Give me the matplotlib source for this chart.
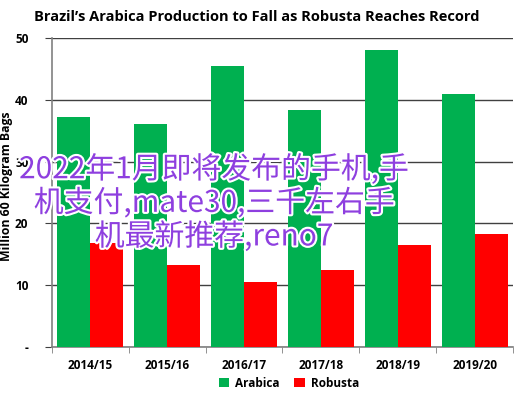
import matplotlib as mpl
import matplotlib.pyplot as plt
import matplotlib.patheffects as pe
import numpy as np

mpl.rcParams["font.family"] = ["Open Sans", "DejaVu Sans"]

# 数据
seasons = ["2014/15", "2015/16", "2016/17", "2017/18", "2018/19", "2019/20"]
arabica = [37.2, 36.1, 45.5, 38.4, 48.1, 40.9]
robusta = [16.8, 13.3, 10.5, 12.5, 16.5, 18.3]
yticks = [0, 10, 20, 30, 40, 50]
ytick_labels = ["-", "10", "20", "30", "40", "50"]

fig = plt.figure(figsize=(5.3, 3.97), dpi=100)
ax = fig.add_axes([0.098, 0.126, 0.870, 0.778])

x = np.arange(len(seasons))
w = 0.43
ax.bar(x - w / 2, arabica, w, color="#00b050", label="Arabica", zorder=3)
ax.bar(x + w / 2, robusta, w, color="#ff0000", label="Robusta", zorder=3)

ax.set_xlim(-0.5, len(seasons) - 0.5)
ax.set_ylim(0, 50)
ax.set_yticks(yticks)
ax.set_yticklabels(ytick_labels, fontsize=8.5, fontweight="bold")
ax.set_xticks(x)
ax.set_xticklabels(seasons, fontsize=8.5, fontweight="bold")
ax.set_xticks(np.arange(len(seasons) + 1) - 0.5, minor=True)
ax.tick_params(axis="x", which="major", length=0, pad=9)
ax.tick_params(axis="x", which="minor", length=4, color="#808080")
ax.tick_params(axis="y", length=5, color="#404040", pad=12)
ax.grid(axis="y", color="#404040", lw=1, zorder=0)

for s in ["top", "right"]:
    ax.spines[s].set_visible(False)
ax.spines["left"].set_color("#808080")
ax.spines["bottom"].set_color("#808080")
ax.spines["left"].set_linewidth(1.2)
ax.spines["bottom"].set_linewidth(1.2)

ax.set_ylabel("Million 60 Kilogram Bags", fontsize=8.8, fontweight="bold")
ax.yaxis.set_label_coords(-0.085, 0.52)
fig.text(0.485, 0.958, "Brazil\u2019s Arabica Production to Fall as Robusta Reaches Record",
         ha="center", va="center", fontsize=10.5, fontweight="bold")

fig.legend(loc="center", bbox_to_anchor=(0.545, 0.035), ncol=2, frameon=False,
           prop={"weight": "bold", "size": 8.5}, handlelength=0.9,
           handleheight=0.9, columnspacing=1.2, handletextpad=0.5)

# 水印文字
fig.text(0.404, 0.488, "2022年1月即将发布的手机,手\n机支付,mate30,三千左右手\n机最新推荐,reno7",
         ha="center", va="center", multialignment="center", fontsize=21.5,
         color="#8e3fdf", linespacing=1.1,
         family=["Noto Sans CJK SC", "DejaVu Sans"],
         path_effects=[pe.withStroke(linewidth=3, foreground="white")])

fig.savefig("out.png", dpi=100)
